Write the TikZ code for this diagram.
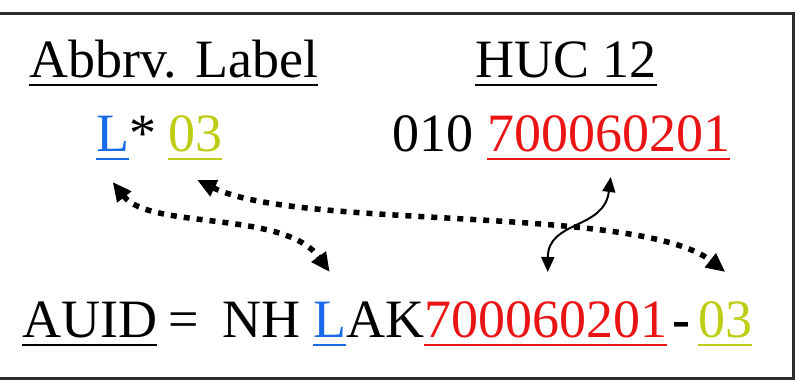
\documentclass[tikz,border=0pt]{standalone}
\usepackage{fontspec}
\setmainfont{Liberation Serif}
\usetikzlibrary{arrows.meta}
\definecolor{lblblue}{RGB}{25,105,235}
\definecolor{hucred}{RGB}{235,20,20}
\definecolor{seqgreen}{RGB}{190,205,20}
\definecolor{framegray}{RGB}{45,45,45}

\begin{document}
\begin{tikzpicture}[x=1pt,y=1pt,
  txt/.style={inner sep=0pt, anchor=base west, font=\fontsize{54}{60}\selectfont},
  uline/.style={line width=2.5pt},
  dotlink/.style={line width=5.5pt, dash pattern=on 6pt off 7pt,
    {Triangle[length=19pt,width=17pt]}-{Triangle[length=19pt,width=17pt]}},
  thinlink/.style={line width=2pt,
    {Triangle[length=15pt,width=13pt]}-{Triangle[length=15pt,width=13pt]}}
]
\useasboundingbox (0,0) rectangle (797,380);
% open frame: top, right and bottom edges
\draw[framegray, line width=3pt] (0,366) -- (793,366) -- (793,2) -- (0,2);

% headings
\node[txt] (hAbb) at (29,302) {Abbrv. Label};
\node[txt] (hHuc) at (475,302) {HUC 12};

% abbreviated label and HUC code
\node[txt, text=lblblue] (lL) at (96,228) {L};
\node[txt] (lStar) at (lL.base east) {*};
\node[txt, text=seqgreen] (lN) at (168,228) {03};
\node[txt] (hPre) at (392,228) {010};
\node[txt, text=hucred] (hN) at (487,228) {700060201};

% assembled AUID
\node[txt] (aId) at (22,42) {AUID};
\node[txt] (aEq) at (168,42) {=};
\node[txt] (aNH) at (222,42) {NH};
\node[txt, text=lblblue] (aL) at (313,42) {L};
\node[txt] (aAK) at (aL.base east) {AK};
\node[txt, text=hucred] (aR) at (424,42) {700060201};
\node[txt] (aDash) at (672,42) {\textbf{-}};
\node[txt, text=seqgreen] (aN) at (698,42) {03};

% underlines
\foreach \n/\c in {hAbb/black, hHuc/black, lL/lblblue, lN/seqgreen, hN/hucred,
                   aId/black, aL/lblblue, aR/hucred, aN/seqgreen}
  \draw[uline, \c] ([yshift=-7pt]\n.base west) -- ([yshift=-7pt]\n.base east);

% links between the parts
\draw[dotlink] ([yshift=-30pt]lL.base) .. controls (150,150) and (285,170) .. ([yshift=66pt]aL.base);
\draw[dotlink] ([xshift=2pt,yshift=-28pt]lN.base) .. controls (300,150) and (640,175) .. ([yshift=66pt]aN.base);
\draw[thinlink] ([xshift=2pt,yshift=-25pt]hN.base) .. controls (604,150) and (548,160) .. ([xshift=2pt,yshift=66pt]aR.base);
\end{tikzpicture}
\end{document}
